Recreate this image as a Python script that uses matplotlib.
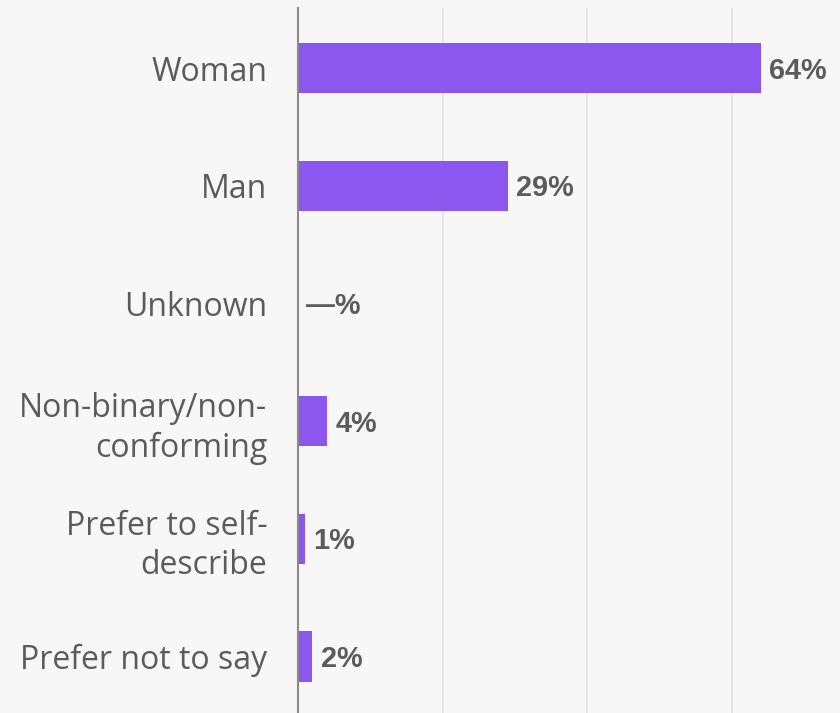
import numpy as np
import matplotlib
matplotlib.use("Agg")
from matplotlib import pyplot as plt

categories = ["Woman", "Man", "Unknown", "Non-binary/non-\nconforming",
              "Prefer to self-\ndescribe", "Prefer not to say"]
values = [64, 29, None, 4, 1, 2]

bar_color = "#8b57ef"
text_color = "#5b5b5b"
bg = "#f7f7f7"

fig = plt.figure(figsize=(8.4, 7.13), dpi=100, facecolor=bg)
ax = fig.add_axes([298 / 840, 0.0, 542 / 840, 705 / 713], facecolor=bg)

y = np.arange(len(categories))
widths = [v if v is not None else 0 for v in values]
ax.barh(y, widths, height=0.425, color=bar_color, zorder=3)

for yi, v in zip(y, values):
    label = f"{v}%" if v is not None else "\u2014%"
    xv = v if v is not None else 0
    ax.annotate(label, (xv, yi), xytext=(6, -1.8), textcoords="offset points",
                ha="left", va="center", fontsize=20.8, fontweight="bold",
                color=text_color, family=["Liberation Sans", "DejaVu Sans"])

ax.set_xlim(0, 75)
ax.set_ylim(5.48, -0.51)
ax.set_xticks([20, 40, 60])
ax.set_xticklabels([])
ax.tick_params(axis="x", length=0)
ax.grid(axis="x", color="#e2e2e2", linewidth=1.2, zorder=0)

ax.set_yticks(y)
ax.set_yticklabels(categories, fontsize=23, color=text_color,
                   family=["Open Sans", "DejaVu Sans"], linespacing=1.25)
ax.tick_params(axis="y", length=0, pad=22)

for side in ["top", "right", "bottom"]:
    ax.spines[side].set_visible(False)
ax.spines["left"].set_color("#8a8a8a")
ax.spines["left"].set_linewidth(1.5)
ax.spines["left"].set_zorder(4)

fig.savefig("out.png", dpi=100, facecolor=bg)
